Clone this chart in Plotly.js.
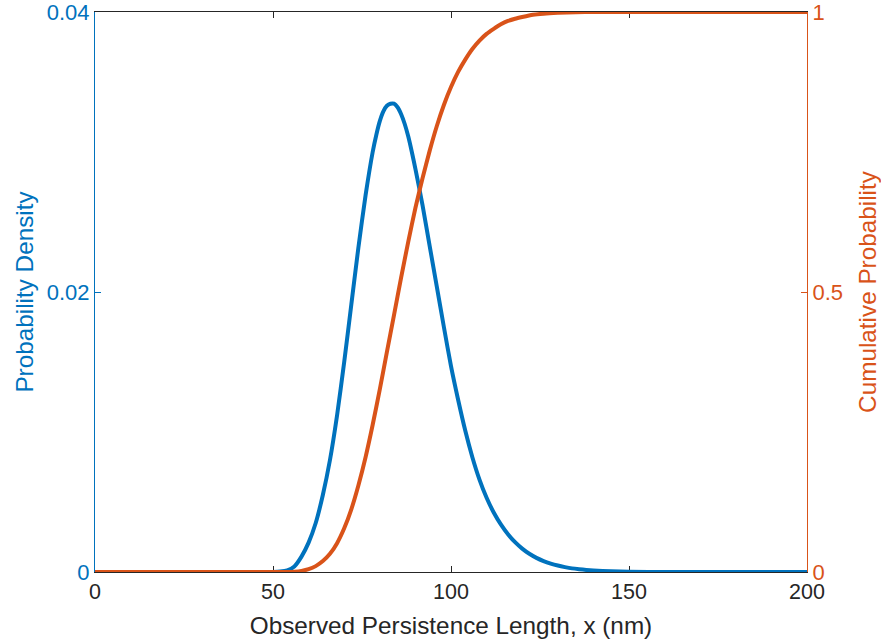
<!DOCTYPE html>
<html>
<head>
<meta charset="utf-8">
<script src="https://cdn.plot.ly/plotly-3.0.1.min.js"></script>
<style>
  html, body { margin: 0; padding: 0; background: #ffffff; }
  #chart { width: 881px; height: 644px; }
</style>
</head>
<body>
<div id="chart"></div>
<script>
// Probability density (left axis)
const xPdf = [0, 50, 52, 54, 56, 58, 60, 62, 64, 66, 68, 70, 72, 74, 76, 78, 79, 80, 81, 82, 83, 84, 85, 86, 87, 88, 89, 90, 92, 94, 96, 98, 100, 102, 104, 106, 108, 110, 112, 114, 116, 118, 120, 122, 124, 126, 128, 130, 132, 134, 136, 138, 140, 145, 150, 160, 200];
const pdfValues = [0, 0, 0.00003, 0.00012, 0.0004, 0.0011, 0.0021, 0.0035, 0.0055, 0.0080, 0.0112, 0.0150, 0.0191, 0.0232, 0.0269, 0.0300, 0.0312, 0.0322, 0.0329, 0.0333, 0.03345, 0.03345, 0.0332, 0.0327, 0.0320, 0.0311, 0.0300, 0.0288, 0.0262, 0.0233, 0.0204, 0.0175, 0.0147, 0.0123, 0.0101, 0.0082, 0.0066, 0.0053, 0.00425, 0.0034, 0.0027, 0.00213, 0.00167, 0.0013, 0.00101, 0.00078, 0.0006, 0.00046, 0.00035, 0.00026, 0.0002, 0.00015, 0.00011, 0.00005, 0.00002, 0, 0];

// Cumulative probability (right axis)
const xCdf = [0, 54, 56, 58, 60, 62, 64, 66, 68, 70, 72, 74, 76, 78, 80, 82, 84, 86, 88, 90, 92, 94, 96, 98, 100, 102, 104, 106, 108, 110, 112, 114, 116, 118, 120, 123, 126, 130, 135, 140, 150, 200];
const cdfValues = [0, 0.0001, 0.0006, 0.0020, 0.0050, 0.0105, 0.0195, 0.0325, 0.0515, 0.078, 0.112, 0.155, 0.205, 0.263, 0.326, 0.393, 0.459, 0.526, 0.590, 0.650, 0.703, 0.752, 0.796, 0.834, 0.866, 0.893, 0.915, 0.934, 0.949, 0.961, 0.970, 0.978, 0.984, 0.988, 0.991, 0.995, 0.997, 0.9985, 0.9995, 1, 1, 1];

const xTicks = [0, 50, 100, 150, 200];
const xTickLabels = ['0', '50', '100', '150', '200'];
const yTicks = [0, 0.02, 0.04];
const yTickLabels = ['0', '0.02', '0.04'];
const y2Ticks = [0, 0.5, 1];
const y2TickLabels = ['0', '0.5', '1'];

const blue = '#0072BD';
const orange = '#D95319';
const dark = '#262626';
const fontFam = '"Liberation Sans", Arial, Helvetica, sans-serif';

const traces = [
  {
    x: xPdf, y: pdfValues, type: 'scatter', mode: 'lines',
    line: { color: blue, width: 4, shape: 'spline', smoothing: 0.6 },
    yaxis: 'y', hoverinfo: 'skip'
  },
  {
    x: xCdf, y: cdfValues, type: 'scatter', mode: 'lines',
    line: { color: orange, width: 4, shape: 'spline', smoothing: 0.6 },
    yaxis: 'y2', hoverinfo: 'skip'
  }
];

const layout = {
  width: 881, height: 644,
  margin: { l: 95, r: 74, t: 12, b: 72, pad: 0 },
  paper_bgcolor: '#ffffff', plot_bgcolor: '#ffffff',
  showlegend: false,
  font: { family: fontFam, size: 22, color: dark },
  xaxis: {
    range: [0, 200], tickvals: xTicks, ticktext: xTickLabels,
    ticks: 'inside', ticklen: 6, tickwidth: 1, tickcolor: dark,
    showline: true, linecolor: dark, linewidth: 1, mirror: 'ticks',
    showgrid: false, zeroline: false, layer: 'below traces',
    ticklabeloverflow: 'allow',
    tickfont: { family: fontFam, size: 21.5, color: dark },
    title: { text: 'Observed Persistence Length, x (nm)', font: { family: fontFam, size: 24.3, color: dark }, standoff: 14 }
  },
  yaxis: {
    range: [0, 0.04], tickvals: yTicks, ticktext: yTickLabels,
    ticks: 'inside', ticklen: 6, tickwidth: 1, tickcolor: blue,
    showline: true, linecolor: blue, linewidth: 1,
    showgrid: false, zeroline: false, layer: 'below traces',
    ticklabeloverflow: 'allow',
    tickfont: { family: fontFam, size: 22, color: blue },
    title: { text: 'Probability Density', font: { family: fontFam, size: 24.3, color: blue }, standoff: 6 }
  },
  yaxis2: {
    range: [0, 1], tickvals: y2Ticks, ticktext: y2TickLabels,
    overlaying: 'y', side: 'right', anchor: 'x',
    ticks: 'inside', ticklen: 6, tickwidth: 1, tickcolor: orange,
    showline: true, linecolor: orange, linewidth: 1,
    showgrid: false, zeroline: false, layer: 'below traces',
    ticklabeloverflow: 'allow',
    tickfont: { family: fontFam, size: 22, color: orange },
    title: { text: 'Cumulative Probability', font: { family: fontFam, size: 24.3, color: orange }, standoff: 17 }
  }
};

Plotly.newPlot('chart', traces, layout, { staticPlot: true, displayModeBar: false }).then(function () {
  // let the thick lines at the axis limits show their full width, as in the reference
  document.querySelectorAll('.cartesianlayer .plot, .cartesianlayer .plot [clip-path]').forEach(function (el) {
    el.removeAttribute('clip-path');
  });
});
</script>
</body>
</html>
